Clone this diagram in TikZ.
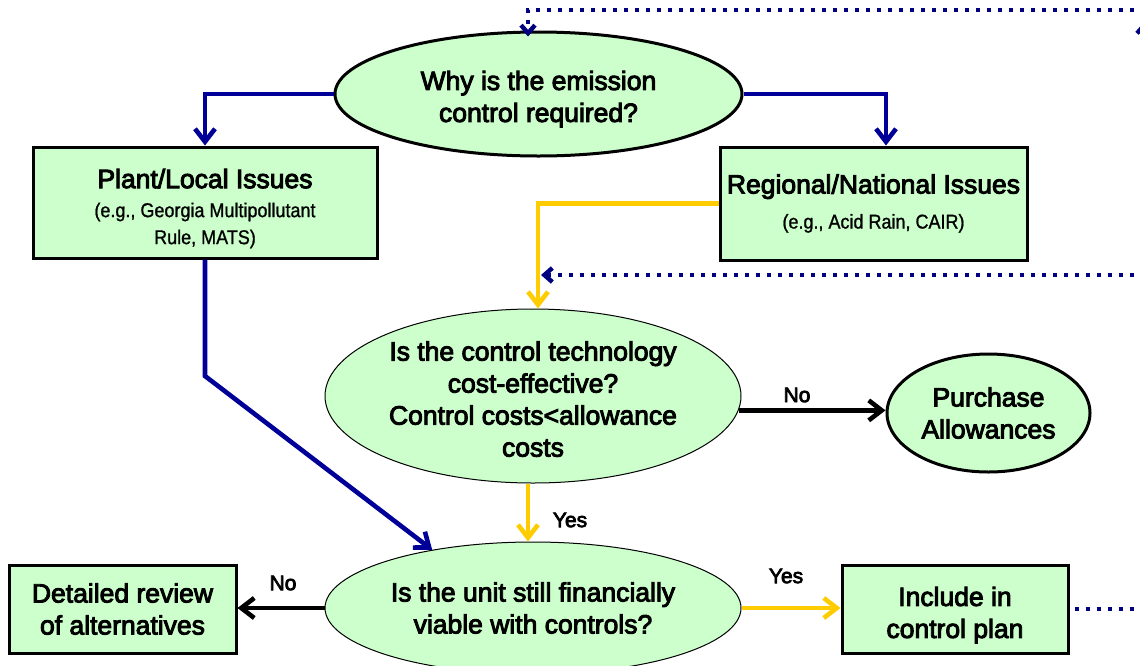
\documentclass[tikz,border=0pt]{standalone}
\usepackage{fontspec}
\setmainfont{Liberation Sans}[RawFeature={embolden=3.5}]
\newfontfamily\narrowfont[FakeStretch=0.9,RawFeature={embolden=1}]{Liberation Sans}
\usetikzlibrary{arrows.meta,shapes.geometric,calc}
\definecolor{boxgreen}{HTML}{CCFFCC}
\definecolor{flowblue}{HTML}{000099}
\definecolor{dotblue}{HTML}{000080}
\definecolor{flowyellow}{HTML}{FFCC00}
\newcommand\issuefont{\narrowfont\fontsize{10}{11.5}\selectfont}

\begin{document}
\begin{tikzpicture}[x=0.5pt,y=-0.5pt,>={Straight Barb[length=6.5pt,width=10pt]},
  every node/.style={font=\fontsize{13.25}{16}\selectfont,align=center,inner sep=0pt},
  issue/.style={draw,fill=boxgreen,line width=1.5pt,rectangle},
  question/.style={draw,fill=boxgreen,ellipse,line width=0.5pt},
  answer/.style={font=\fontsize{10.5}{12}\selectfont},
  blueflow/.style={draw=flowblue,line width=2.3pt,->},
  yellowflow/.style={draw=flowyellow,line width=2.3pt,->},
  blackflow/.style={draw=black,line width=2.3pt,->},
  feedback/.style={draw=dotblue,line width=2.2pt,dash pattern=on 2.2pt off 3.3pt,
    -{Straight Barb[length=4pt,width=7pt]}}]
  \useasboundingbox (0,0) rectangle (1140,665);
  \clip (0,0) rectangle (1140,665);

  % questions
  \node[question,line width=1.5pt,minimum width=203.5pt,minimum height=62pt] (why) at (538.5,94)
    {\rule{0pt}{14.7pt}Why is the emission\\control required?};
  \node[question,minimum width=208pt,minimum height=87pt] (cost) at (533,396)
    {\rule{0pt}{12.7pt}Is the control technology\\cost-effective?\\Control costs<allowance\\costs};
  \node[question,minimum width=208pt,minimum height=66pt] (viable) at (533,608)
    {Is the unit still financially\\viable with controls?};
  \node[question,line width=1.5pt,minimum width=101.5pt,minimum height=59pt] (buy) at (988.5,413)
    {Purchase\\Allowances};

  % issues and outcomes
  \node[issue,minimum width=172pt,minimum height=55.5pt] (plant) at (205,202.5)
    {\rule{0pt}{15.7pt}Plant/Local Issues\\[-1.5pt]{\issuefont (e.g., Georgia Multipollutant}\\[-2.5pt]{\issuefont Rule, MATS)}};
  \node[issue,minimum width=153.5pt,minimum height=56.5pt] (reg) at (873.5,203.5)
    {Regional/National Issues\\[1.5pt]{\issuefont (e.g., Acid Rain, CAIR)}};
  \node[issue,minimum width=113.5pt,minimum height=44pt] (review) at (122.5,609)
    {Detailed review\\of alternatives};
  \node[issue,minimum width=113pt,minimum height=44pt] (plan) at (955,609)
    {\rule{0pt}{15.7pt}Include in\\control plan};

  % answers
  \node[answer] (no1) at (797,395) {No};
  \node[answer] (yes1) at (570,520) {Yes};
  \node[answer] (no2) at (283,583) {No};
  \node[answer] (yes2) at (786,576) {Yes};

  % bends and loose ends
  \coordinate (bend) at (205,376);
  \coordinate (regin) at ($(reg.north)+(12.5,0)$);
  \coordinate (ydrop) at ($(cost.north)+(5,0)$);
  \coordinate (ydown) at ($(cost.south)+(-5,0)$);
  \coordinate (fbR) at (1145,275);
  \coordinate (fbTop) at (1145,10);
  \coordinate (fbTurn) at (528,10);
  \coordinate (fbUp) at (1144,90);
  \coordinate (fbUpEnd) at (1144,22);
  \coordinate (fbOut) at (1145,606);

  % solid flows
  \draw[blueflow] (why.west) -| (plant.north);
  \draw[blueflow] (why.east) -| (regin);
  \draw[blueflow] (plant.south) -- (bend) -- (viable.150);
  \draw[yellowflow] (reg.west) -| (ydrop);
  \draw[yellowflow] (ydown) -- (ydown |- viable.north);
  \draw[blackflow] (cost.-4.5) -- (cost.-4.5 -| buy.west);
  \draw[blackflow] (viable.west) -- (viable.west -| review.east);
  \draw[yellowflow] (viable.east) -- (viable.east -| plan.west);

  % dotted feedback
  \draw[feedback] (fbR) -- ($(fbR -| ydrop)+(3,0)$);
  \draw[feedback] (fbTop) -- (fbTurn) -- ($(fbTurn |- why.north)+(0,6)$);
  \draw[feedback] (fbUp) -- (fbUpEnd);
  \draw[feedback,-] ($(plan.east)+(5,0)$) -- (plan.east -| fbOut);
\end{tikzpicture}
\end{document}
